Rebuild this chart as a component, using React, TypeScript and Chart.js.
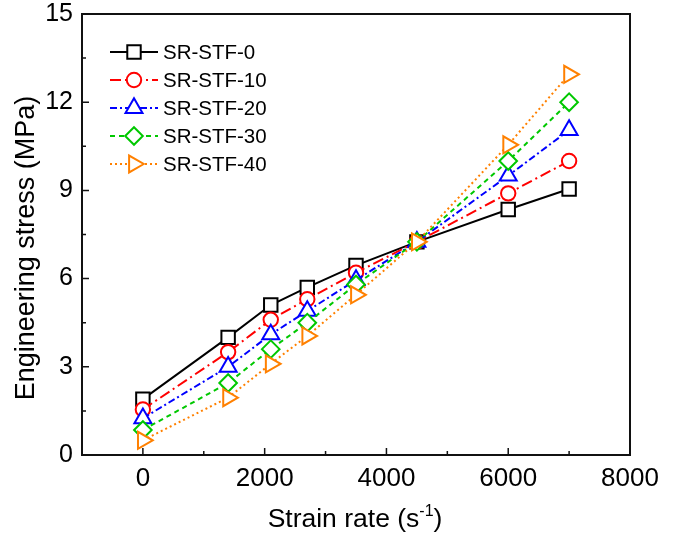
import React, { useEffect, useRef } from 'react';
import { Chart, registerables } from 'chart.js';

Chart.register(...registerables);

// ---- data ----
const strainRates = [0, 1400, 2100, 2700, 3500, 4500, 6000, 7000];
const seriesNames = ['SR-STF-0', 'SR-STF-10', 'SR-STF-20', 'SR-STF-30', 'SR-STF-40'];
const stf0 = [1.9, 4.0, 5.1, 5.7, 6.45, 7.25, 8.35, 9.05];
const stf10 = [1.55, 3.5, 4.6, 5.3, 6.2, 7.25, 8.9, 10.0];
const stf20 = [1.25, 3.0, 4.1, 4.9, 5.95, 7.25, 9.5, 11.05];
const stf30 = [0.85, 2.45, 3.6, 4.5, 5.8, 7.25, 10.0, 12.0];
const stf40 = [0.5, 1.95, 3.1, 4.05, 5.45, 7.25, 10.55, 12.95];
const seriesValues = [stf0, stf10, stf20, stf30, stf40];

const xTickValues = [0, 2000, 4000, 6000, 8000];
const xMinorTickValues = [1000, 3000, 5000, 7000];
const yTickValues = [0, 3, 6, 9, 12, 15];
const yMinorTickValues = [1.5, 4.5, 7.5, 10.5, 13.5];
const xTitle = 'Strain rate (s';
const xTitleSup = '-1';
const yTitle = 'Engineering stress (MPa)';

// ---- styles ----
const colors = ['#000000', '#ff0000', '#0000ff', '#00c800', '#ff8000'];
const dashes = [[], [11, 4, 2, 4], [7, 3, 2, 3], [5, 4], [2, 3]];
const markers = ['rect', 'circle', 'triangle', 'rectRot', 'triangle'];
const markerRadius = [9.5, 7.2, 9.8, 8.8, 9.8];
const markerRotation = [0, 0, 0, 0, 90];
const FONT = '"Liberation Sans", Arial, sans-serif';

function drawMarker(ctx: CanvasRenderingContext2D, style: string, x: number, y: number, r: number, rotDeg: number) {
  ctx.beginPath();
  const rad = (rotDeg * Math.PI) / 180;
  if (style === 'rect') {
    const s = Math.SQRT1_2 * r;
    ctx.rect(x - s, y - s, 2 * s, 2 * s);
  } else if (style === 'circle') {
    ctx.arc(x, y, r, 0, Math.PI * 2);
  } else if (style === 'rectRot') {
    ctx.moveTo(x - r, y);
    ctx.lineTo(x, y - r);
    ctx.lineTo(x + r, y);
    ctx.lineTo(x, y + r);
  } else if (style === 'triangle') {
    let a = rad;
    ctx.moveTo(x + Math.sin(a) * r, y - Math.cos(a) * r);
    a += (2 * Math.PI) / 3;
    ctx.lineTo(x + Math.sin(a) * r, y - Math.cos(a) * r);
    a += (2 * Math.PI) / 3;
    ctx.lineTo(x + Math.sin(a) * r, y - Math.cos(a) * r);
  }
  ctx.closePath();
  ctx.fillStyle = '#ffffff';
  ctx.fill();
  ctx.stroke();
}

const decorPlugin = {
  id: 'decor',
  afterDraw(chart: any) {
    const ctx: CanvasRenderingContext2D = chart.ctx;
    const { left, right, top, bottom } = chart.chartArea;
    const xs = chart.scales.x;
    const ys = chart.scales.y;
    ctx.save();
    // frame
    ctx.strokeStyle = '#111111';
    ctx.lineWidth = 2;
    ctx.setLineDash([]);
    ctx.strokeRect(left, top, right - left, bottom - top);
    // inward ticks
    ctx.lineWidth = 1.5;
    ctx.beginPath();
    xTickValues.forEach((v) => {
      const p = xs.getPixelForValue(v);
      ctx.moveTo(p, bottom);
      ctx.lineTo(p, bottom - 7);
    });
    xMinorTickValues.forEach((v) => {
      const p = xs.getPixelForValue(v);
      ctx.moveTo(p, bottom);
      ctx.lineTo(p, bottom - 4);
    });
    yTickValues.forEach((v) => {
      const p = ys.getPixelForValue(v);
      ctx.moveTo(left, p);
      ctx.lineTo(left + 7, p);
    });
    yMinorTickValues.forEach((v) => {
      const p = ys.getPixelForValue(v);
      ctx.moveTo(left, p);
      ctx.lineTo(left + 4, p);
    });
    ctx.stroke();

    // legend
    chart.data.datasets.forEach((ds: any, i: number) => {
      const yy = 52 + i * 28;
      ctx.strokeStyle = colors[i];
      ctx.lineWidth = 2;
      ctx.setLineDash(dashes[i]);
      ctx.beginPath();
      ctx.moveTo(110, yy);
      ctx.lineTo(158, yy);
      ctx.stroke();
      ctx.setLineDash([]);
      drawMarker(ctx, markers[i], 134, yy, markerRadius[i], markerRotation[i]);
      ctx.fillStyle = '#000000';
      ctx.font = `20.5px ${FONT}`;
      ctx.textAlign = 'left';
      ctx.textBaseline = 'middle';
      ctx.fillText(ds.label, 163, yy + 1);
    });

    // x title with superscript
    ctx.fillStyle = '#000000';
    ctx.textBaseline = 'alphabetic';
    ctx.font = `26.5px ${FONT}`;
    const w1 = ctx.measureText(xTitle).width;
    ctx.font = `16px ${FONT}`;
    const w2 = ctx.measureText(xTitleSup).width;
    ctx.font = `26.5px ${FONT}`;
    const w3 = ctx.measureText(')').width;
    const total = w1 + w2 + w3;
    const cx = (left + right) / 2 - 1;
    let sx = cx - total / 2;
    const base = 527;
    ctx.textAlign = 'left';
    ctx.fillText(xTitle, sx, base);
    sx += w1;
    ctx.font = `16px ${FONT}`;
    ctx.fillText(xTitleSup, sx, base - 11);
    sx += w2;
    ctx.font = `26.5px ${FONT}`;
    ctx.fillText(')', sx, base);

    // y title
    ctx.save();
    ctx.translate(27, 248);
    ctx.rotate(-Math.PI / 2);
    ctx.font = `27px ${FONT}`;
    ctx.textAlign = 'center';
    ctx.textBaseline = 'middle';
    ctx.fillText(yTitle, 0, 0);
    ctx.restore();

    ctx.restore();
  },
};

export default function App() {
  const ref = useRef<HTMLCanvasElement | null>(null);
  useEffect(() => {
    if (!ref.current) return;
    const datasets = seriesNames.map((name, i) => ({
      label: name,
      data: strainRates.map((x, j) => ({ x, y: seriesValues[i][j] })),
      borderColor: colors[i],
      borderWidth: 2,
      borderDash: dashes[i],
      pointStyle: markers[i],
      pointRadius: markerRadius[i],
      pointRotation: markerRotation[i],
      pointBorderColor: colors[i],
      pointBackgroundColor: '#ffffff',
      pointBorderWidth: 2,
      tension: 0,
      fill: false,
      order: 5 - i,
    }));
    const chart = new Chart(ref.current, {
      type: 'line',
      data: { datasets },
      options: {
        animation: false,
        responsive: false,
        layout: { padding: { top: 14, right: 57, left: 0, bottom: 0 } },
        plugins: { legend: { display: false }, tooltip: { enabled: false } },
        scales: {
          x: {
            type: 'linear',
            min: -1000,
            max: 8000,
            grid: { display: false, drawTicks: false },
            border: { display: false },
            afterBuildTicks: (s: any) => {
              s.ticks = xTickValues.map((v) => ({ value: v }));
            },
            afterFit: (s: any) => {
              s.height = 85;
              s.paddingLeft = 0;
              s.paddingRight = 0;
            },
            ticks: {
              color: '#000000',
              font: { size: 26, family: FONT },
              padding: 8,
              maxRotation: 0,
              autoSkip: false,
              callback: (v: any) => String(v),
            },
          },
          y: {
            type: 'linear',
            min: 0,
            max: 15,
            grid: { display: false, drawTicks: false },
            border: { display: false },
            afterBuildTicks: (s: any) => {
              s.ticks = yTickValues.map((v) => ({ value: v }));
            },
            afterFit: (s: any) => {
              s.width = 82;
              s.paddingTop = 0;
              s.paddingBottom = 0;
            },
            ticks: {
              color: '#000000',
              font: { size: 25, family: FONT },
              padding: 9,
              autoSkip: false,
              callback: (v: any) => String(v),
            },
          },
        },
      },
      plugins: [decorPlugin],
    });
    return () => chart.destroy();
  }, []);
  return (
    <div style={{ position: 'absolute', left: 0, top: 0, width: 687, height: 540, background: '#ffffff' }}>
      <canvas ref={ref} width={687} height={540} />
    </div>
  );
}
